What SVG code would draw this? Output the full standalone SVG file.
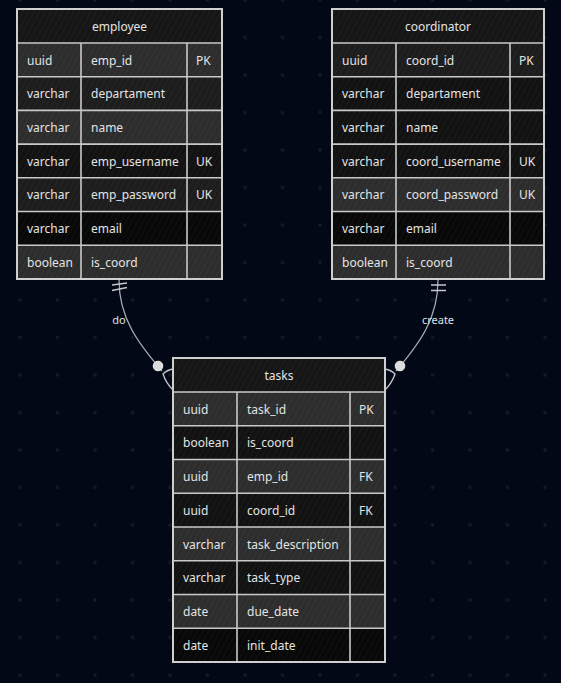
<svg xmlns="http://www.w3.org/2000/svg" width="561" height="683" viewBox="0 0 561 683">
<defs>
<pattern id="grid" x="1" y="0" width="37.5" height="37.5" patternUnits="userSpaceOnUse">
<rect x="17.5" y="-1.5" width="3" height="3" fill="#161b2a"/>
<rect x="17.5" y="36" width="3" height="3" fill="#161b2a"/>
</pattern>
<pattern id="hatch" width="5" height="5" patternUnits="userSpaceOnUse" patternTransform="rotate(28)">
<line x1="0" y1="0" x2="0" y2="5" stroke="#ffffff" stroke-opacity="0.07" stroke-width="1"/>
</pattern>
<style>
.t{font-family:"Noto Sans","Open Sans","DejaVu Sans",sans-serif;font-size:12px;fill:#e4e4e4}
.h{text-anchor:middle}
.lbl{font-family:"Noto Sans","Open Sans","DejaVu Sans",sans-serif;font-size:11px;fill:#dfe3ea;text-anchor:middle}
.hd{fill:#161616}
.r1{fill:#2d2d2d}
.r2{fill:#1d1d1d}
.r3{fill:#121212}
.r4{fill:#080808}
.hat{fill:url(#hatch)}
.ln{stroke:#c9c9c9;stroke-width:1.6;fill:none}
.ob{stroke:#cfcfcf;stroke-width:2;fill:none}
.cn{stroke:#a6aab2;stroke-width:1.3;fill:none}
.mk{stroke:#c4c7cc;stroke-width:1.3;fill:none}
.dot{fill:#dcdcdc;stroke:#f0f0f0;stroke-width:1}
</style>
</defs>
<rect width="561" height="683" fill="#030816"/>
<rect width="561" height="683" fill="url(#grid)"/>

<g id="employee">
<rect class="hd" x="17" y="9" width="205" height="34"/>
<rect class="r1" x="17" y="43" width="205" height="33.7"/>
<rect class="r2" x="17" y="76.7" width="205" height="33.7"/>
<rect class="r1" x="17" y="110.4" width="205" height="33.7"/>
<rect class="r3" x="17" y="144.1" width="205" height="33.7"/>
<rect class="r2" x="17" y="177.8" width="205" height="33.7"/>
<rect class="r4" x="17" y="211.5" width="205" height="33.7"/>
<rect class="r1" x="17" y="245.2" width="205" height="33.8"/>
<rect class="hat" x="17" y="9" width="205" height="270"/>
<path class="ln" d="M17,43H222M17,76.7H222M17,110.4H222M17,144.1H222M17,177.8H222M17,211.5H222M17,245.2H222M81,43V279M187,43V279"/>
<rect class="ob" x="17" y="9" width="205" height="270"/>
<text class="t h" x="119.5" y="30.5">employee</text>
<text class="t" x="27" y="64.5">uuid</text><text class="t" x="91" y="64.5">emp_id</text><text class="t" x="196" y="64.5">PK</text>
<text class="t" x="27" y="98.2">varchar</text><text class="t" x="91" y="98.2">departament</text>
<text class="t" x="27" y="131.9">varchar</text><text class="t" x="91" y="131.9">name</text>
<text class="t" x="27" y="165.6">varchar</text><text class="t" x="91" y="165.6">emp_username</text><text class="t" x="196" y="165.6">UK</text>
<text class="t" x="27" y="199.3">varchar</text><text class="t" x="91" y="199.3">emp_password</text><text class="t" x="196" y="199.3">UK</text>
<text class="t" x="27" y="233">varchar</text><text class="t" x="91" y="233">email</text>
<text class="t" x="27" y="266.7">boolean</text><text class="t" x="91" y="266.7">is_coord</text>
</g>

<g id="coordinator">
<rect class="hd" x="332" y="9" width="212" height="34"/>
<rect class="r2" x="332" y="43" width="212" height="33.7"/>
<rect class="r3" x="332" y="76.7" width="212" height="33.7"/>
<rect class="r3" x="332" y="110.4" width="212" height="33.7"/>
<rect class="r3" x="332" y="144.1" width="212" height="33.7"/>
<rect class="r1" x="332" y="177.8" width="212" height="33.7"/>
<rect class="r4" x="332" y="211.5" width="212" height="33.7"/>
<rect class="r1" x="332" y="245.2" width="212" height="33.8"/>
<rect class="hat" x="332" y="9" width="212" height="270"/>
<path class="ln" d="M332,43H544M332,76.7H544M332,110.4H544M332,144.1H544M332,177.8H544M332,211.5H544M332,245.2H544M396,43V279M510,43V279"/>
<rect class="ob" x="332" y="9" width="212" height="270"/>
<text class="t h" x="438" y="30.5">coordinator</text>
<text class="t" x="342" y="64.5">uuid</text><text class="t" x="406" y="64.5">coord_id</text><text class="t" x="519" y="64.5">PK</text>
<text class="t" x="342" y="98.2">varchar</text><text class="t" x="406" y="98.2">departament</text>
<text class="t" x="342" y="131.9">varchar</text><text class="t" x="406" y="131.9">name</text>
<text class="t" x="342" y="165.6">varchar</text><text class="t" x="406" y="165.6">coord_username</text><text class="t" x="519" y="165.6">UK</text>
<text class="t" x="342" y="199.3">varchar</text><text class="t" x="406" y="199.3">coord_password</text><text class="t" x="519" y="199.3">UK</text>
<text class="t" x="342" y="233">varchar</text><text class="t" x="406" y="233">email</text>
<text class="t" x="342" y="266.7">boolean</text><text class="t" x="406" y="266.7">is_coord</text>
</g>

<g id="tasks">
<rect class="hd" x="173" y="358" width="212" height="34"/>
<rect class="r1" x="173" y="392" width="212" height="33.75"/>
<rect class="r3" x="173" y="425.75" width="212" height="33.75"/>
<rect class="r1" x="173" y="459.5" width="212" height="33.75"/>
<rect class="r3" x="173" y="493.25" width="212" height="33.75"/>
<rect class="r1" x="173" y="527" width="212" height="33.75"/>
<rect class="r3" x="173" y="560.75" width="212" height="33.75"/>
<rect class="r1" x="173" y="594.5" width="212" height="33.75"/>
<rect class="r4" x="173" y="628.25" width="212" height="33.75"/>
<rect class="hat" x="173" y="358" width="212" height="304"/>
<path class="ln" d="M173,392H385M173,425.75H385M173,459.5H385M173,493.25H385M173,527H385M173,560.75H385M173,594.5H385M173,628.25H385M237,392V662M350,392V662"/>
<rect class="ob" x="173" y="358" width="212" height="304"/>
<text class="t h" x="279" y="379.5">tasks</text>
<text class="t" x="183" y="413.5">uuid</text><text class="t" x="247" y="413.5">task_id</text><text class="t" x="359" y="413.5">PK</text>
<text class="t" x="183" y="447.2">boolean</text><text class="t" x="247" y="447.2">is_coord</text>
<text class="t" x="183" y="481">uuid</text><text class="t" x="247" y="481">emp_id</text><text class="t" x="359" y="481">FK</text>
<text class="t" x="183" y="514.7">uuid</text><text class="t" x="247" y="514.7">coord_id</text><text class="t" x="359" y="514.7">FK</text>
<text class="t" x="183" y="548.5">varchar</text><text class="t" x="247" y="548.5">task_description</text>
<text class="t" x="183" y="582.2">varchar</text><text class="t" x="247" y="582.2">task_type</text>
<text class="t" x="183" y="616">date</text><text class="t" x="247" y="616">due_date</text>
<text class="t" x="183" y="649.7">date</text><text class="t" x="247" y="649.7">init_date</text>
</g>

<g id="connectors">
<path class="cn" d="M119,280 C119,318 138,343 162,371"/>
<path class="mk" d="M112,285 L127,283 M112,290.5 L127,287.5"/>
<path class="mk" d="M173,369 Q167,370 163,374 Q166,383 173,390"/>
<circle class="dot" cx="158" cy="366" r="4.8"/>
<text class="lbl" x="119" y="324">do</text>

<path class="cn" d="M438,280 C438,318 420,343 396,371"/>
<path class="mk" d="M431,285 L446,285 M431,290.5 L446,290.5"/>
<path class="mk" d="M385,369 Q391,370 395,374 Q392,383 385,390"/>
<circle class="dot" cx="400" cy="366" r="4.8"/>
<text class="lbl" x="438" y="324">create</text>
</g>
</svg>
